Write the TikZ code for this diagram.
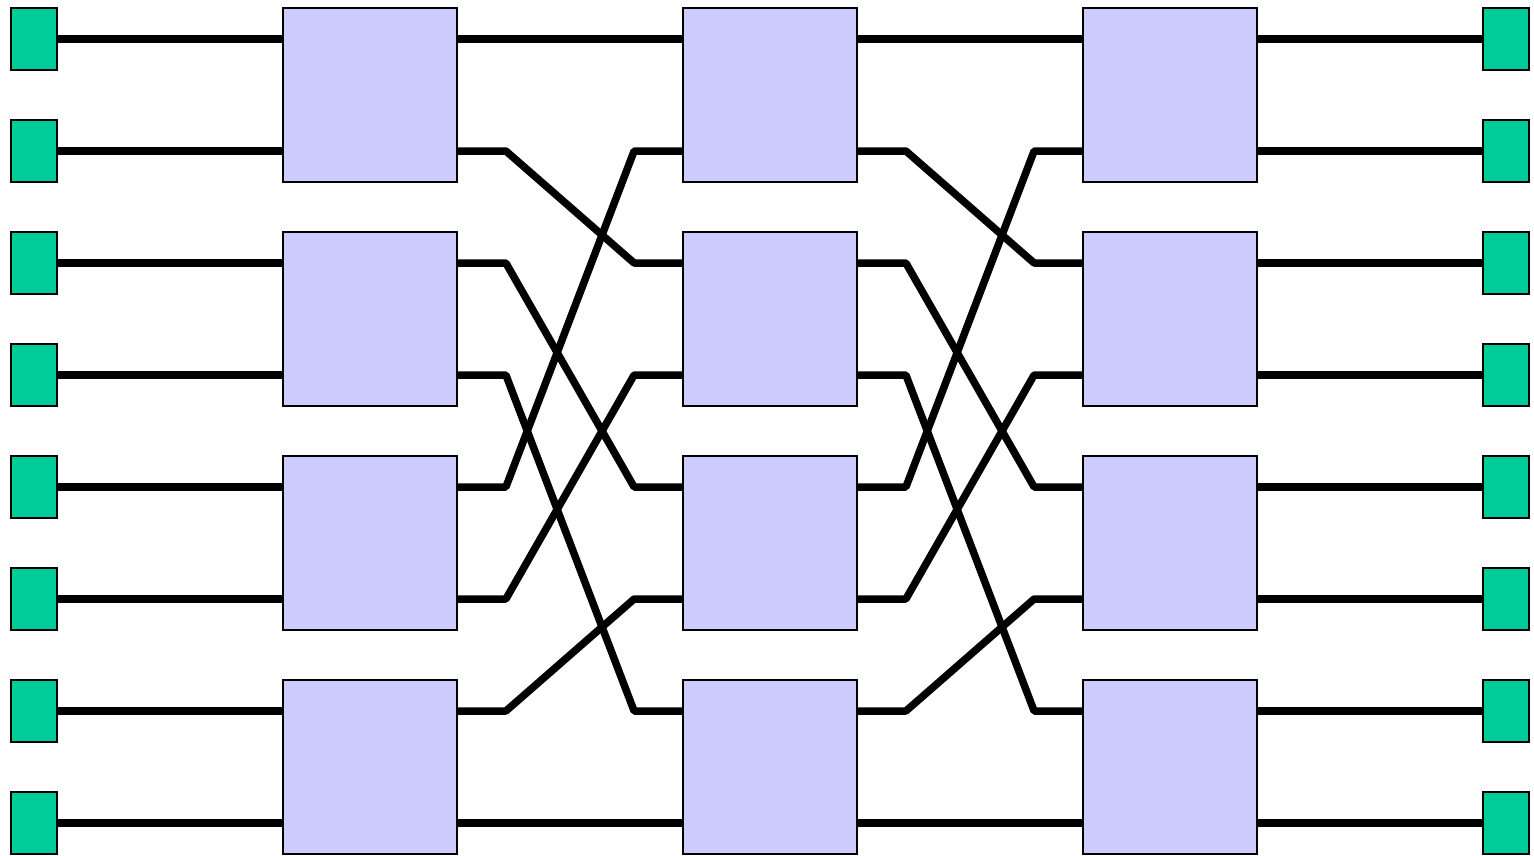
\documentclass[tikz,border=0pt]{standalone}
\usetikzlibrary{calc}
\definecolor{portgreen}{HTML}{00CC99}
\definecolor{switchblue}{HTML}{CCCCFF}
\tikzset{
  port/.style={draw=black, line width=2.2pt, fill=portgreen, minimum width=46pt, minimum height=62pt, inner sep=0pt},
  switchbox/.style={draw=black, line width=1.8pt, fill=switchblue, minimum width=174pt, minimum height=174pt, inner sep=0pt},
  wire/.style={line width=7.5pt, line join=bevel, line cap=butt}
}
\begin{document}
\begin{tikzpicture}[x=1pt,y=-1pt]
\useasboundingbox (0,0) rectangle (1534,855);
% ports
\foreach \i in {0,...,7}{
  \node[port] (l\i) at (34,{39+112*\i}) {};
  \node[port] (r\i) at (1506,{39+112*\i}) {};
}
% switches
\foreach \k in {0,...,3}{
  \node[switchbox] (a\k) at (370,{95+224*\k}) {};
  \node[switchbox] (b\k) at (770,{95+224*\k}) {};
  \node[switchbox] (c\k) at (1170,{95+224*\k}) {};
}
% input and output wires
\foreach \i [evaluate=\i as \k using {int(\i/2)}] in {0,...,7}{
  \draw[wire] (l\i.east) -- (l\i.east -| a\k.west);
  \draw[wire] (r\i.west -| c\k.east) -- (r\i.west);
}
% straight wires between stages
\draw[wire] (l0 -| a0.east) -- (l0 -| b0.west);
\draw[wire] (l7 -| a3.east) -- (l7 -| b3.west);
\draw[wire] (l0 -| b0.east) -- (l0 -| c0.west);
\draw[wire] (l7 -| b3.east) -- (l7 -| c3.west);
% perfect shuffle wires
\foreach \s/\t in {1/2,2/4,3/6,4/1,5/3,6/5}{
  \pgfmathtruncatemacro{\ks}{\s/2}
  \pgfmathtruncatemacro{\kt}{\t/2}
  \draw[wire] (l\s -| a\ks.east) -- ($(l\s -| a\ks.east)+(48,0)$) -- ($(l\t -| b\kt.west)+(-48,0)$) -- (l\t -| b\kt.west);
  \draw[wire] (l\s -| b\ks.east) -- ($(l\s -| b\ks.east)+(48,0)$) -- ($(l\t -| c\kt.west)+(-48,0)$) -- (l\t -| c\kt.west);
}
\end{tikzpicture}
\end{document}
